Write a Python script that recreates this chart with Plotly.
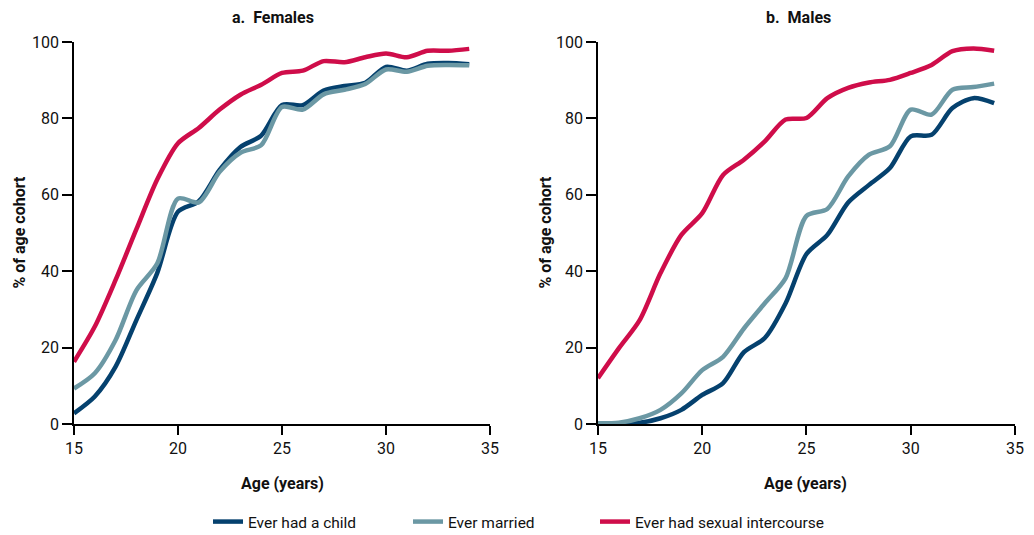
import plotly.graph_objects as go
from plotly.subplots import make_subplots

ages = list(range(15, 35))

fem_child = [2.8, 7.2, 15, 27.2, 39.5, 55.6, 58.3, 66.5, 72.5, 75.5, 83.5, 83.5, 87.3, 88.5, 89.3, 93.5, 92.5, 94.3, 94.5, 94.2]
fem_married = [9.3, 13.3, 22, 35, 42, 59, 58, 66, 71, 73, 83, 82.3, 86.3, 87.5, 89, 92.8, 92.2, 93.8, 94, 93.9]
fem_sex = [16.3, 25.5, 37.7, 51, 64, 73.5, 77.5, 82.3, 86.2, 88.8, 91.9, 92.5, 95, 94.7, 96, 97, 96, 97.7, 97.7, 98.2]

male_child = [0, 0.2, 0.35, 1.5, 3.7, 7.6, 10.7, 18.8, 22.5, 31.6, 44.5, 49.5, 58, 62.6, 67, 75.3, 75.7, 82.7, 85.3, 84]
male_married = [0.2, 0.35, 1.5, 3.7, 8, 14.1, 17.6, 25, 31.6, 38.2, 54.5, 56.3, 64.8, 70.5, 72.7, 82.3, 81, 87.5, 88.2, 89.1]
male_sex = [12, 19.8, 27.2, 39.5, 49.5, 55.2, 65.2, 69.2, 74, 79.7, 80.1, 85.3, 88, 89.4, 90.1, 91.9, 94, 97.6, 98.3, 97.7]

series_names = ["Ever had a child", "Ever married", "Ever had sexual intercourse"]
colors = ["#05416e", "#6b98a4", "#cf0d4a"]
x_ticks = [15, 20, 25, 30, 35]
y_ticks = [0, 20, 40, 60, 80, 100]

FONT = "Roboto"

# page body has an 8px margin: figure pixel = screen pixel - 8
OFF = 8
W, H = 1026, 527
L, R, T, B = 66, 10, 34, 111
pw = W - L - R
ph = H - T - B

legend_ids = ["legend", "legend2", "legend3"]
legend_line_x = [213, 413, 600]   # screen x where each legend sample line starts

fig = make_subplots(rows=1, cols=2)

panels = [
    (1, [fem_child, fem_married, fem_sex]),
    (2, [male_child, male_married, male_sex]),
]
for col, data in panels:
    for name, vals, c, lid in zip(series_names, data, colors, legend_ids):
        fig.add_trace(
            go.Scatter(
                x=ages, y=vals, mode="lines", name=name,
                line=dict(color=c, width=4.5, shape="spline", smoothing=0.8),
                showlegend=(col == 1), legendgroup=name, legend=lid,
            ),
            row=1, col=col,
        )

axis_common = dict(
    showgrid=False, zeroline=False, showline=True, linecolor="black", linewidth=1.5,
    ticks="outside", tickcolor="black", tickwidth=1.5,
    tickfont=dict(family=FONT, size=16, color="#111"),
)
for col in (1, 2):
    fig.update_xaxes(range=[15, 35], tickvals=x_ticks, ticklen=9, row=1, col=col, **axis_common)
    fig.update_yaxes(range=[0, 100], tickvals=y_ticks, ticklen=10, row=1, col=col, **axis_common)

fig.update_xaxes(domain=[0, 0.4421], row=1, col=1)
fig.update_xaxes(domain=[0.5568, 1.0], row=1, col=2)


def px_x(p):
    return (p - OFF - L) / pw


def px_y(p):
    return (H - B - (p - OFF)) / ph


ann = []
bold = dict(family=FONT, size=16, color="#111")
ann.append(dict(text="<b>a.  Females</b>", x=px_x(275), y=px_y(17), xref="paper", yref="paper",
                showarrow=False, font=bold, xanchor="center", yanchor="middle"))
ann.append(dict(text="<b>b.  Males</b>", x=px_x(805), y=px_y(17), xref="paper", yref="paper",
                showarrow=False, font=bold, xanchor="center", yanchor="middle"))
for xc in (284, 813):
    ann.append(dict(text="<b>Age (years)</b>", x=px_x(xc), y=px_y(483), xref="paper", yref="paper",
                    showarrow=False, font=bold, xanchor="center", yanchor="middle"))
for xc in (18, 549):
    ann.append(dict(text="<b>% of age cohort</b>", x=px_x(xc), y=px_y(233), xref="paper", yref="paper",
                    showarrow=False, font=bold, textangle=-90, xanchor="center", yanchor="middle"))

legend_layout = {}
for lid, lx in zip(legend_ids, legend_line_x):
    legend_layout[lid] = dict(
        orientation="h", xref="container", yref="container",
        x=(lx - OFF - 5) / W, xanchor="left",
        y=1 - (522 - OFF) / H, yanchor="middle",
        font=dict(family=FONT, size=15.5, color="#111"),
        itemwidth=30, bgcolor="rgba(0,0,0,0)",
    )

fig.update_layout(
    width=W, height=H,
    margin=dict(l=L, r=R, t=T, b=B),
    paper_bgcolor="white", plot_bgcolor="white",
    font=dict(family=FONT, color="#111"),
    annotations=ann,
    **legend_layout,
)

fig.write_html("out.html")
